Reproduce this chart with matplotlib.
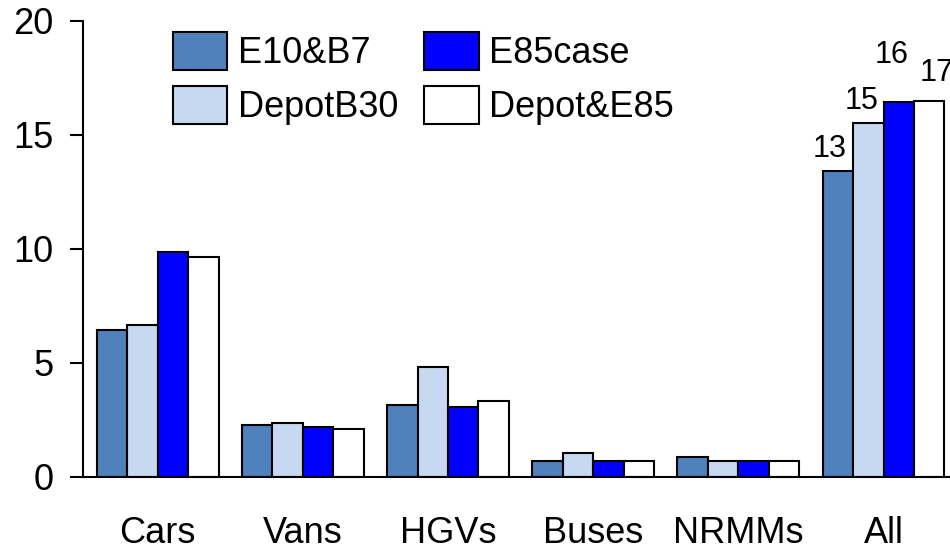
import numpy as np
import matplotlib
matplotlib.use('Agg')
import matplotlib.pyplot as plt

plt.rcParams.update({'font.family': ['Liberation Sans', 'DejaVu Sans'], 'font.size': 26})

categories = ['Cars', 'Vans', 'HGVs', 'Buses', 'NRMMs', 'All']
series = ['E10&B7', 'DepotB30', 'E85case', 'Depot&E85']
e10_b7 = [6.42, 2.28, 3.16, 0.69, 0.87, 13.4]
depot_b30 = [6.67, 2.36, 4.82, 1.05, 0.70, 15.5]
e85_case = [9.84, 2.20, 3.07, 0.67, 0.70, 16.45]
depot_e85 = [9.65, 2.10, 3.33, 0.70, 0.70, 16.5]
all_labels = ['13', '15', '16', '17']

colors = ['#4F81BD', '#C6D9F0', '#0000FF', '#FFFFFF']
# label offsets (dx, dy in points) for the "All" annotations
lab_off = [(-6, 10), (-5, 10), (-5, 28), (5, 14)]

fig = plt.figure(figsize=(9.5, 5.51), dpi=100)
ax = fig.add_axes([0.0874, 0.1348, 1 - 0.0874, 0.9624 - 0.1348])

x = np.arange(len(categories))
w = 0.21
vals = [e10_b7, depot_b30, e85_case, depot_e85]
bars = []
for i, (name, v) in enumerate(zip(series, vals)):
    b = ax.bar(x + (i - 1.5) * w, v, w, color=colors[i], edgecolor='black',
               linewidth=1.5, label=name, zorder=2)
    bars.append(b)

for i in range(4):
    r = bars[i][-1]
    ax.annotate(all_labels[i], (r.get_x() + r.get_width() / 2, r.get_height()),
                xytext=lab_off[i], textcoords='offset points', ha='center',
                va='baseline', fontsize=22, annotation_clip=False)

ax.set_xlim(-0.514, 5.458)
ax.set_ylim(0, 20)
ax.set_yticks([0, 5, 10, 15, 20])
ax.set_xticks(x)
ax.set_xticklabels(categories)
ax.tick_params(axis='x', length=0, pad=28)
ax.tick_params(axis='y', length=9.4, width=1.5, pad=12, direction='out')
for s in ['top', 'right']:
    ax.spines[s].set_visible(False)
for s in ['left', 'bottom']:
    ax.spines[s].set_linewidth(1.5)

ax.legend(ncol=2, loc='upper left', bbox_to_anchor=(173 / 950, 1 - 32 / 551),
          bbox_transform=fig.transFigure, frameon=False, borderpad=0,
          borderaxespad=0, handlelength=1.5, handleheight=1.24,
          handletextpad=0.3, columnspacing=0.72, labelspacing=0.42)

fig.savefig('out.png', dpi=100)
